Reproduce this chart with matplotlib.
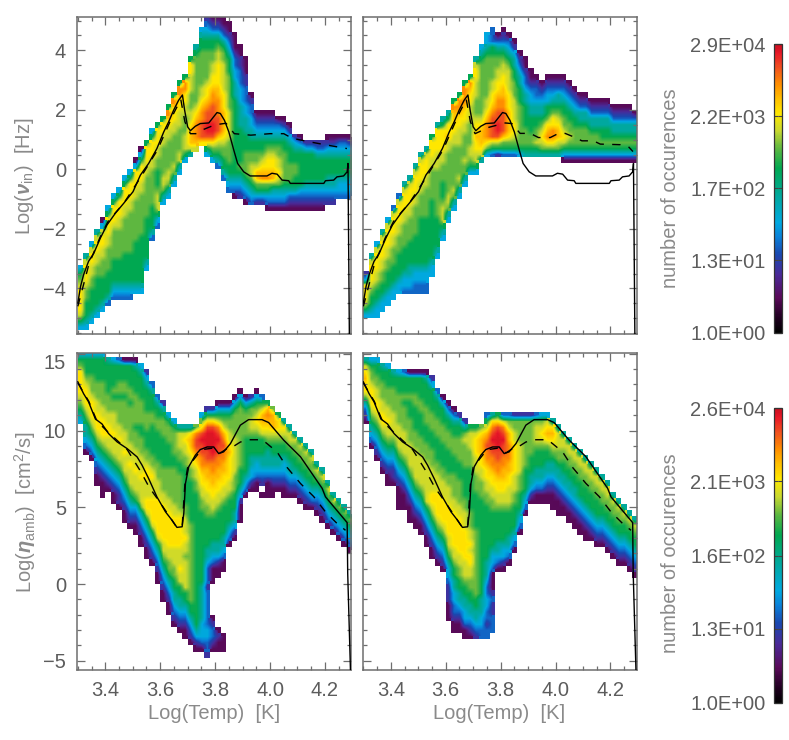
import numpy as np
import matplotlib
matplotlib.use('Agg')
import matplotlib.pyplot as plt
from matplotlib.colors import LinearSegmentedColormap, LogNorm, Normalize
from matplotlib.ticker import MultipleLocator

plt.rcParams['font.family'] = ['Liberation Sans', 'DejaVu Sans']
plt.rcParams['mathtext.fontset'] = 'custom'
plt.rcParams['mathtext.rm'] = 'Liberation Sans'
plt.rcParams['mathtext.it'] = 'Liberation Sans:italic'
plt.rcParams['mathtext.bfit'] = 'Liberation Sans:italic:bold'

# bin counts, one code per colour step (hex digit 1..d)
LEVEL_COUNTS = [3.4, 9.6, 22, 50, 125, 350, 720, 1330, 2450, 4100, 6900, 12700, 21000]
TEMP_BINS = np.arange(3.30, 4.31, 0.02)

# every panel: one (lowest bin, codes going up) for each temperature bin, '.' = empty
CELLS_A = [
    (-5.4, "4689 9998 764"), (-5.4, "4566677899985"), (-5.2, "45666677889984"),
    (-5.0, "456666677889985"), (-4.8, "4566667778899841"), (-4.6, "35666677778899964"),
    (-4.4, "345666677777899964"), (-4.4, "3456666777778899964"), (-4.4, "345666667777778899964"),
    (-4.4, "3456666677777778899964"), (-4.2, "45666666677777778899941"), (-4.2, "4566666666777777788999641"),
    (-3.4, "4566666667777777889996"), (-2.4, "3566667777778899964"), (-2.0, "346888766677889996"),
    (-1.2, "457887777788996"), (-1.0, "4578877777889ab6"), (-0.6, "4578777778899ab6"),
    (-0.2, "4588777788899bb6"), (0.2, "468887778899bb6"), (0.4, "58aaa988777888996"),
    (0.6, "8abbba987777777765"), (0.8, "9cccbba9887777776654"), (0.4, "469cddccba99877777665432"),
    (0.2, "4679cddcccbba998877665321"), (0.0, "35678acccbbbaa999988765321"), (-0.4, "35667789aaaa9998888877653211"),
    (-0.8, "34566777788888777777666543211"), (-1.0, "1345666666666666655544332111"), (-1.0, "23456766666655554443332211"),
    (-1.2, "1345677776665554433322111"), (-1.2, "3456788776655443321"), (-1.2, "2467aa8776654321"),
    (-1.2, "2467ba9876654321"), (-1.4, "13467ba9987654321"), (-1.4, "13457aa9987654321"),
    (-1.4, "1345789887765431"), (-1.4, "1345677777665421"), (-1.4, "123567776665421"),
    (-1.4, "1235667766542"), (-1.4, "1234666666531"), (-1.4, "123456666642"),
    (-1.4, "123456666642"), (-1.4, "123456666532"), (-1.4, "123456666532"),
    (-1.2, "234556665421"), (-1.2, "234556665421"), (-1.0, "34456665431"),
    (-1.0, "34456665431"), (-1.0, "34456665421"),
]
CELLS_B = [
    (-5.0, "46899942"), (-5.0, "45667899985"), (-5.0, "4456678899984"),
    (-4.8, "44566778899985"), (-4.6, "445666778899984"), (-4.4, "4456667778899983"),
    (-4.2, "44566667778899983"), (-4.2, "3445666677778899985"), (-4.2, "34455666677778899985"),
    (-4.2, "3344566666777778899985"), (-4.2, "334456666666677778899985"), (-4.2, "3344566666666777778899985"),
    (-3.6, "445666666666677777889996"), (-3.0, "45666667777777788899995"), (-2.4, "456888766677788999965"),
    (-1.8, "45788777777788a9965"), (-1.4, "457877777778899aab6"), (-1.0, "45787777788899abb6"),
    (-0.6, "4577877778899abbb6"), (-0.2, "46788777788899ab6"), (-0.2, "468899a9987778889985"),
    (0.2, "589aaa98777777777654"), (0.4, "479bbba98877777776544"), (0.4, "368ccccba9988777766333"),
    (0.4, "268cddccbba9988776531"), (0.4, "367accccbbaa9988765321"), (0.4, "3679aaaa9998888765431"),
    (0.4, "36789988887776655421"), (0.4, "467777777666554321"), (0.4, "56777666655433211"),
    (0.4, "567766655443211"), (0.4, "56877665543321"), (0.4, "5789876554321"),
    (0.4, "579ba976644321"), (0.4, "579bb997654321"), (0.4, "578aa987655321"),
    (0.2, "146898776654321"), (0.2, "14678776654321"), (0.2, "1467776654321"),
    (0.2, "146777655321"), (0.2, "146777655321"), (0.2, "14677655321"),
    (0.2, "14677655321"), (0.2, "14676655321"), (0.2, "14676655321"),
    (0.2, "1467655321"), (0.2, "1467655321"), (0.2, "1467655321"),
    (0.2, "1467655321"), (0.2, "146765531"),
]
CELLS_C = [
    (10.4, "456789999764"), (8.4, "13455678999876664"), (8.0, "134567899987776664"),
    (6.4, "1123456789998877766664"), (5.6, "111234567899988777766664"), (6.0, "1234567889988777666665"),
    (5.2, "112345678889888776766664"), (4.8, "1223456788898877776776663"), (4.0, "112345678889888777776776661"),
    (3.6, "1234567888988877777767766661"), (3.2, "11234678889888777677777666651"), (2.4, "112345788889888777667777666654"),
    (1.6, "1123456899888998776667776666542"), (1.2, "123456899998889877666667766653"),
    (0.0, "1123456 8999999 888 777 66666 77 66 53"),
    (-1.2, "1123456 788 999999 88 7777 66666 777 6 52"),
    (-2.0, "1123456 778 8 999999 88 77777 6666 777 6 4"),
    (-2.8, "1234556677 888 99999 88 777777 66 7777 6 4"),
    (-3.2, "1234556688 9888 99999 8 777777 66 77 888 5"),
    (-3.6, "11234566 88888 7 88 9 888 77 666666 77 88 9 8 5"),
    (-4.0, "123456 6 7777777777777 6666666 77 88 9 aa 9 5"),
    (-4.4, "1245 6666666666666666666666 7788 9abccb7"),
    (-4.4, "13444555555 666666666666 7788 99 a bb cc d c 9 7 4"),
    (-4.8, "23344333333233 345566666 77889 9aabccddd c9 6 2"),
    (-4.4, "123321 ..... 111345566667889 9aabbcdddd c9 62"),
    (-4.4, "1121 ........ 11245566666 7 88 99 aa bb cc d c b 8 6 4 1"),
    (-4.4, "111 .......... 11345566666 7 88 99 aa bb c b a 8 7 6 4 1"),
    (2.4, "1345 6666 7 88 9999 a 9 88 77 6 4 1"),
    (2.8, "12455 666 777 888888 7777 6 4 1"),
    (4.0, "1112456667777777777641"),
    (5.6, "13456666667777641"), (6.0, "124455666788 7752"), (6.0, "11344566678987641"),
    (5.6, "1.2345566689aa863"), (5.6, "1113455567 89aba6"), (5.6, "11234556678aaa7"),
    (6.0, "1234556678996"), (5.6, "1123445667895"), (5.6, "123455667885"),
    (5.6, "12345667785"), (5.2, "12345667785"), (4.8, "12345667785"),
    (4.8, "1345667785"), (4.4, "123456785"), (4.0, "123456785"),
    (3.6, "13456785"), (3.2, "1345685"), (2.8, "1345675"),
    (2.4, "1345675"), (2.0, "1345675"),
]
CELLS_D = [
    (10.4, "1235799a985"), (8.8, "134567899987764"), (8.0, "12345678998877664"),
    (7.2, "123456789988777665"), (6.4, "11234567889887776664"), (6.4, "1223456788887777665"),
    (4.8, "11112345678888777776664"), (4.8, "11123456788887777676663"), (4.0, "1112345678888 7777 666 7 666 1"),
    (3.6, "11234567 88888 777 6666 77 666 1"), (3.2, "1123456788888 777 6666 77 6666 1"),
    (2.4, "1123456 8888888 777 666 777 6666 5 1"), (1.6, "1123456 78 99 8888 777 666 777 6666 4 2"),
    (1.2, "1234567 8 9999 888 77 6666 777 666 5 3"), (0.8, "1234567 8 9999 888 77 6666 777 666 4 1"),
    (-2.4, "111 222 3 44 5 6 7 88 99999 888 77 6666 777 66 5 3 1"),
    (-3.2, "112 33 44 55 66 7 88 999999 88 7777 666 777 66 5 3 1"),
    (-3.2, "1123455 66 77 88 999999 88 7777 666 7777 66 5 2"),
    (-3.6, "11 3 44 55 66 7 888 99999 888 77 66666 7777 8 7 5 2"),
    (-3.6, "1 2 3 4 55 66 77 88 99 8 9 88 777 6666666 777 888 6"),
    (-3.6, "2 3 4 55 66 77777777777 666666 777 888 999 8 6"),
    (-3.6, "33 44 555 6666666666666666 777 88 99 aaa 9 7"),
    (-3.6, "33233 44 33 4 555 666666666 77 88 99 a bb c b a 8 6 3"),
    (-3.2, "333 22 3 2 111 3 44 5 666666 77 88 99 a bb cc d c b 9 5"),
    (0.8, "1 3 4 55 66666 7 88 99 a bb cc ddd c 9 6"),
    (0.8, "1 2 44 5 66666 7 88 99 aa bb cc d c b 8 3"),
    (1.2, "1 3 4 55 6666 7 888 99 aa bbb aa 8 7 3"),
    (2.0, "1345 6666 77 888 99999 88 77 2"), (3.2, "1 3 4 5 666 777 88888 7777 2"),
    (4.4, "1 3 4 5 6666 77777777 2"), (5.2, "1 2 4 55 666 777777 2"),
    (5.2, "11 3 4 55 666 7 888 7 3"), (5.2, "1134 55 666 7 8 9 8 7 4"),
    (5.2, "112345 5 66 7 9 a 9 8 4"), (4.8, "111234556 7 8 9 a 9 5"),
    (4.4, "1 11 2 3 4 55 6 77 888 5"), (4.4, "11234556 6 7 7 8 8 5"),
    (4.0, "11234 55 66 77 88 5"), (3.6, "11234 55 66 77 88 5"),
    (3.2, "11234566 6 77 88 5"), (2.8, "11234566 6 77 88 5"),
    (2.8, "1234566677885"), (2.4, "1234566677885"), (2.4, "123456677885"),
    (2.0, "123456677885"), (1.6, "12345667785"), (1.2, "12345667785"),
    (1.2, "1234566785"), (0.8, "1234566785"), (0.4, "1234566785"),
]

# mean lines, the solid one is the same in both columns
TOP_SOLID_T = [3.30, 3.31, 3.321, 3.339, 3.358, 3.382, 3.406, 3.437, 3.467, 3.501, 3.528, 3.558, 3.588, 3.613,
               3.631, 3.649, 3.667, 3.681, 3.689, 3.70, 3.71, 3.728, 3.746, 3.777, 3.807, 3.819, 3.834, 3.85,
               3.868, 3.882, 3.904, 3.928, 3.989, 4.007, 4.026, 4.044, 4.068, 4.074, 4.196, 4.202, 4.232, 4.244,
               4.268, 4.281, 4.284, 4.289]
TOP_SOLID_V = [-4.49, -3.93, -3.54, -3.09, -2.82, -2.31, -1.87, -1.47, -1.14, -0.75, -0.19, 0.2, 0.7, 1.26,
               1.6, 1.99, 2.32, 2.5, 1.99, 1.43, 1.3, 1.45, 1.54, 1.56, 1.91, 1.88, 1.65, 1.26,
               0.65, 0.2, -0.08, -0.22, -0.22, -0.13, -0.16, -0.36, -0.38, -0.47, -0.47, -0.38, -0.36, -0.25,
               -0.22, -0.08, 0.2, -5.53]
A_DASH_T = [3.30, 3.34, 3.38, 3.41, 3.47, 3.53, 3.59, 3.65, 3.675, 3.69, 3.71, 3.73, 3.76, 3.80, 3.84, 3.87,
            3.93, 4.0, 4.05, 4.08, 4.13, 4.2, 4.28]
A_DASH_V = [-4.6, -3.2, -2.3, -1.75, -1.1, -0.25, 0.65, 1.9, 2.35, 1.6, 1.2, 1.2, 1.35, 1.5, 1.55, 1.2,
            1.15, 1.2, 1.2, 1.05, 0.95, 0.83, 0.7]
B_DASH_T = [3.30, 3.34, 3.38, 3.41, 3.47, 3.53, 3.59, 3.65, 3.675, 3.69, 3.707, 3.756, 3.817, 3.841, 3.871,
            3.908, 3.938, 3.981, 4.011, 4.035, 4.072, 4.096, 4.138, 4.163, 4.236, 4.266, 4.282]
B_DASH_V = [-4.6, -3.2, -2.3, -1.75, -1.1, -0.25, 0.65, 1.9, 2.35, 1.6, 1.2, 1.41, 1.56, 1.54, 1.21,
            1.21, 1.07, 1.07, 1.21, 1.21, 1.07, 0.96, 0.96, 0.85, 0.83, 0.76, 0.6]
LOW_SOLID_T = [3.30, 3.321, 3.339, 3.364, 3.388, 3.412, 3.443, 3.479, 3.516, 3.534, 3.558, 3.588, 3.619, 3.643,
               3.661, 3.68, 3.686, 3.692, 3.704, 3.728, 3.746, 3.771, 3.795, 3.813, 3.831, 3.856, 3.892, 3.922,
               3.971, 3.995, 4.05, 4.111, 4.19, 4.202, 4.281, 4.283, 4.293]
LOW_SOLID_V = [13.17, 12.4, 11.87, 10.75, 10.43, 9.8, 9.26, 8.83, 8.28, 7.74, 6.87, 5.68, 4.71, 4.16,
               3.69, 3.73, 4.61, 6.55, 7.64, 8.39, 8.76, 8.93, 8.93, 8.5, 8.61, 9.15, 10.35, 10.71,
               10.71, 10.52, 9.37, 8.29, 6.23, 5.68, 4.0, 0.7, -5.6]
LOW_DASH_T = [3.30, 3.34, 3.37, 3.41, 3.48, 3.53, 3.56, 3.60, 3.66, 3.68, 3.69, 3.70, 3.75, 3.79, 3.82, 3.85,
              3.87, 3.892, 3.922, 3.971, 3.989, 4.026, 4.062, 4.111, 4.159, 4.202, 4.244, 4.275]
LOW_DASH_V = [13.1, 11.9, 10.6, 9.9, 8.75, 7.3, 6.3, 5.3, 3.7, 3.75, 6.5, 7.6, 8.75, 8.85, 8.55, 8.9,
              9.0, 9.25, 9.4, 9.4, 9.15, 8.6, 7.6, 6.55, 5.7, 4.7, 3.95, 3.5]

TOP_TICKS = [1, 13, 170, 2200, 29000]
LOW_TICKS = [1, 13, 160, 2100, 26000]
TOP_LABELS = ['1.0E+00', '1.3E+01', '1.7E+02', '2.2E+03', '2.9E+04']
LOW_LABELS = ['1.0E+00', '1.3E+01', '1.6E+02', '2.1E+03', '2.6E+04']

cmap = LinearSegmentedColormap.from_list('idl_rainbow', [
    (0.0, '#000000'), (0.05, '#200020'), (0.12, '#5a0a5a'), (0.2, '#4a2a98'), (0.27, '#1a48b0'),
    (0.33, '#0a80d8'), (0.38, '#00a8e0'), (0.47, '#00a8a0'), (0.57, '#00a850'), (0.64, '#60b840'),
    (0.70, '#c8d830'), (0.76, '#ffe800'), (0.81, '#ffc000'), (0.86, '#ff9000'), (0.92, '#f05020'),
    (0.97, '#e81828'), (1.0, '#c81020')])

W, H = 789.0, 740.0
GRAY = '#6e6e6e'
TEXT = '#5c5c5c'
TITLE = '#8a8a8a'


def px_axes(left, right, top, bottom):
    return fig.add_axes([left / W, 1 - bottom / H, (right - left) / W, (bottom - top) / H])


def build_grid(cells, y0, dy, nrows):
    grid = np.full((nrows, len(cells)), np.nan)
    for i, (start, codes) in enumerate(cells):
        j = round((start - y0) / dy)
        for ch in codes.replace(' ', ''):
            if ch != '.':
                grid[j, i] = LEVEL_COUNTS[int(ch, 16) - 1]
            j += 1
    return grid


def panel(ax, cells, y0, dy, nrows, norm, solid, dashed, ylim, major, minor, left, low):
    grid = build_grid(cells, y0, dy, nrows)
    y_edges = y0 + dy * np.arange(nrows + 1)
    # blocks give the rough outer edge, the resampled image on top softens the inside
    mesh = ax.pcolormesh(TEMP_BINS, y_edges, grid, cmap=cmap, norm=norm, rasterized=True)
    ax.imshow(np.ma.masked_invalid(np.log10(grid)), cmap=cmap, norm=Normalize(0, np.log10(norm.vmax)),
              origin='lower', aspect='auto', interpolation='bilinear', interpolation_stage='data',
              extent=(TEMP_BINS[0], TEMP_BINS[-1], y_edges[0], y_edges[-1]), zorder=1.5)
    ax.plot(solid[0], solid[1], color='black', lw=1.0, zorder=3)
    ax.plot(dashed[0], dashed[1], color='black', lw=1.0, ls=(0, (6, 6)), zorder=3)
    ax.set_xlim(3.297, 4.295)
    ax.set_ylim(*ylim)
    ax.xaxis.set_major_locator(MultipleLocator(0.2))
    ax.xaxis.set_minor_locator(MultipleLocator(0.05))
    ax.yaxis.set_major_locator(MultipleLocator(major))
    ax.yaxis.set_minor_locator(MultipleLocator(minor))
    ax.tick_params(which='both', direction='in', top=True, right=True, color=GRAY, width=0.9,
                   labelcolor=TEXT, labelsize=14.5, labelleft=left, labelbottom=low, pad=8)
    ax.tick_params(which='major', length=5.5)
    ax.tick_params(which='minor', length=3)
    for s in ax.spines.values():
        s.set_color(GRAY)
        s.set_linewidth(1.1)
    return mesh


def color_bar(top, bottom, mesh, ticks, labels):
    cax = px_axes(774, 782.5, top, bottom)
    cb = fig.colorbar(mesh, cax=cax)
    cb.set_ticks(ticks, labels=labels)
    cb.ax.minorticks_off()
    cb.ax.yaxis.set_ticks_position('both')
    cb.ax.yaxis.set_label_position('left')
    cb.ax.tick_params(which='major', direction='in', length=3, width=0.8, color='#444444',
                      labelleft=True, labelright=False, labelcolor=TEXT, labelsize=14.5, pad=6)
    cb.outline.set_edgecolor('#333333')
    cb.outline.set_linewidth(0.9)
    return cb


fig = plt.figure(figsize=(W / 100, H / 100), dpi=100)
top_norm = LogNorm(1, 2.9e4)
low_norm = LogNorm(1, 2.6e4)

ax_a = px_axes(77, 351, 17, 334)
ax_b = px_axes(362.5, 636.5, 17, 334)
ax_c = px_axes(77, 351, 353, 670)
ax_d = px_axes(362.5, 636.5, 353, 670)

top_lim = (-5.53, 5.12)
low_lim = (-5.6, 15.05)
m_a = panel(ax_a, CELLS_A, -5.6, 0.2, 56, top_norm, (TOP_SOLID_T, TOP_SOLID_V), (A_DASH_T, A_DASH_V),
            top_lim, 2, 0.5, True, False)
panel(ax_b, CELLS_B, -5.6, 0.2, 56, top_norm, (TOP_SOLID_T, TOP_SOLID_V), (B_DASH_T, B_DASH_V),
      top_lim, 2, 0.5, False, False)
m_c = panel(ax_c, CELLS_C, -5.2, 0.4, 52, low_norm, (LOW_SOLID_T, LOW_SOLID_V), (LOW_DASH_T, LOW_DASH_V),
            low_lim, 5, 1, True, True)
panel(ax_d, CELLS_D, -5.2, 0.4, 52, low_norm, (LOW_SOLID_T, LOW_SOLID_V), (LOW_DASH_T, LOW_DASH_V),
      low_lim, 5, 1, False, True)

# the 15 sits under the top edge in the original
for lab, val in zip(ax_c.get_yticklabels(), ax_c.get_yticks()):
    if val == 15:
        lab.set_va('top')

for ax in (ax_c, ax_d):
    ax.set_xlabel('Log(Temp)  [K]', color=TITLE, fontsize=14.5, labelpad=3)

fig.text(25 / W, 1 - 176 / H, r'Log($\boldsymbol{\nu}_{\rm in}$)  [Hz]', rotation=90, color=TITLE, fontsize=14.5,
         ha='center', va='center')
fig.text(25 / W, 1 - 512 / H, r'Log($\boldsymbol{\eta}_{\rm amb}$)  [cm$^2$/s]', rotation=90, color=TITLE,
         fontsize=14.5, ha='center', va='center')

color_bar(44, 332.5, m_a, TOP_TICKS, TOP_LABELS)
color_bar(408, 703, m_c, LOW_TICKS, LOW_LABELS)
fig.text(670 / W, 1 - 188 / H, 'number of occurences', rotation=90, color=TITLE, fontsize=14.5,
         ha='center', va='center')
fig.text(670 / W, 1 - 553 / H, 'number of occurences', rotation=90, color=TITLE, fontsize=14.5,
         ha='center', va='center')

fig.savefig('out.png', dpi=100)
